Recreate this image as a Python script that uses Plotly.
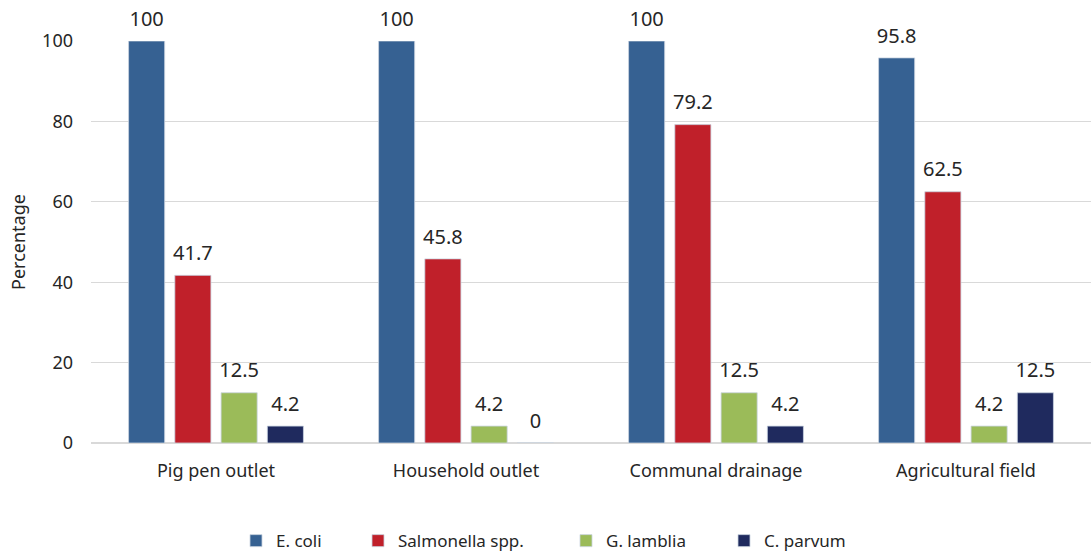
import plotly.graph_objects as go

categories = ["Pig pen outlet", "Household outlet", "Communal drainage", "Agricultural field"]
series_names = ["E. coli", "Salmonella spp.", "G. lamblia", "C. parvum"]
e_coli = [100, 100, 100, 95.8]
salmonella = [41.7, 45.8, 79.2, 62.5]
g_lamblia = [12.5, 4.2, 12.5, 4.2]
c_parvum = [4.2, 0, 4.2, 12.5]
colors = ["#366192", "#C0202A", "#9BBB59", "#1F2A5E"]
y_ticks = [0, 20, 40, 60, 80, 100]

# legend entry widths (px) to reproduce the spacing of the original legend
legend_widths = [77, 163, 113, 90]

FONT = "Noto Sans"
fig = go.Figure()
all_vals = [e_coli, salmonella, g_lamblia, c_parvum]
for name, vals, col, lw in zip(series_names, all_vals, colors, legend_widths):
    fig.add_trace(go.Bar(
        x=categories, y=vals, name=name, legendwidth=lw,
        marker=dict(color=col, line=dict(color="#C9D3E0", width=0.8)),
        hoverinfo="skip",
    ))
# value labels as text scatter traces, grouped the same way as the bars
for name, vals in zip(series_names, all_vals):
    fig.add_trace(go.Scatter(
        x=categories, y=vals, mode="markers+text", showlegend=False,
        marker=dict(size=15, opacity=0),
        text=[f"{v:g}" for v in vals], textposition="top center",
        textfont=dict(size=20, color="#262626", family=FONT),
        cliponaxis=False, hoverinfo="skip",
    ))

fig.update_layout(
    width=1091, height=556,
    margin=dict(l=91, r=0, t=41, b=113, autoexpand=False),
    paper_bgcolor="white", plot_bgcolor="white",
    barmode="group", bargap=0.26, bargroupgap=0.22,
    scattermode="group", scattergap=0.26,
    font=dict(family=FONT, size=18, color="#262626"),
    showlegend=True,
    legend=dict(orientation="h", x=0.145, xanchor="left", y=-0.244, yanchor="middle",
                font=dict(size=17), itemwidth=30, traceorder="normal"),
    xaxis=dict(showline=False, ticks="", tickfont=dict(size=18), automargin=False,
               ticklabelstandoff=15),
    yaxis=dict(range=[0, 100], tickvals=y_ticks, showgrid=True, gridcolor="#D9D9D9",
               gridwidth=1.2, zeroline=True, zerolinecolor="#D9D9D9", zerolinewidth=1.5,
               showline=False, ticks="", tickfont=dict(size=18), automargin=False,
               ticklabelstandoff=17,
               title=dict(text="Percentage", font=dict(size=18), standoff=11)),
)
fig.write_html("out.html", config={"displayModeBar": False},
               post_script="document.body.style.margin='0';")
